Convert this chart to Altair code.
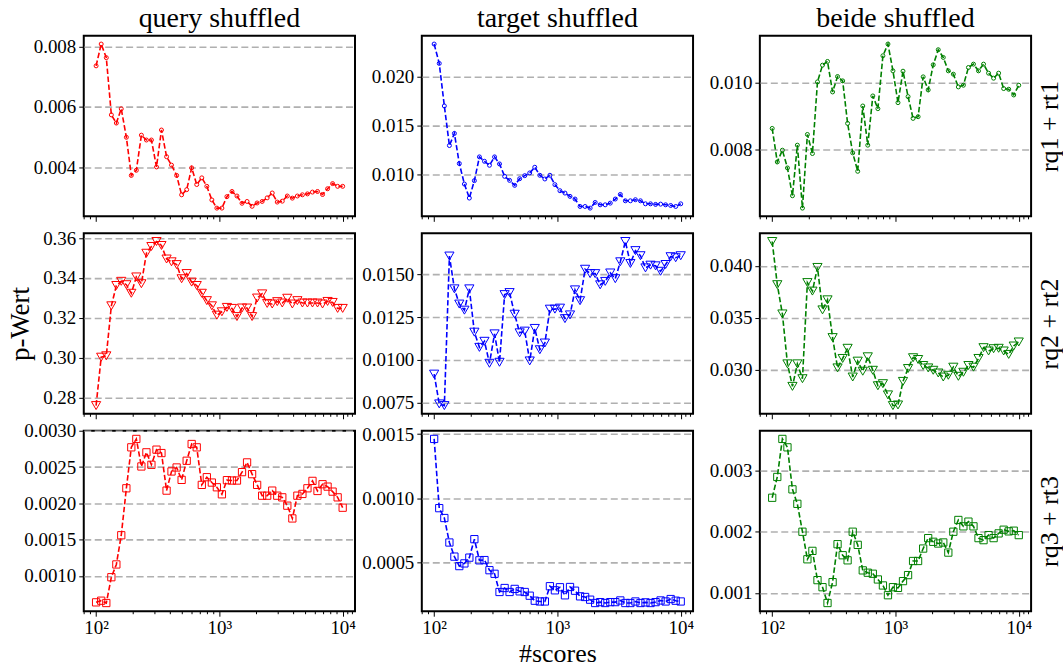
import altair as alt
import pandas as pd

scores = [100, 110, 121, 133, 146, 160, 176, 193, 212, 233,
          256, 281, 309, 339, 373, 409, 450, 494, 543, 596,
          655, 720, 791, 869, 954, 1048, 1151, 1265, 1389, 1526,
          1677, 1842, 2024, 2223, 2442, 2683, 2947, 3237, 3556, 3907,
          4292, 4715, 5179, 5690, 6251, 6866, 7543, 8286, 9103, 10000]

col_titles = ["query shuffled", "target shuffled", "beide shuffled"]
row_titles = ["rq1 + rt1", "rq2 + rt2", "rq3 + rt3"]
colors = ["#ff0000", "#0000ff", "#008000"]
shapes = ["circle", "triangle-down", "square"]
sizes = [16, 85, 53]

q_rq1 = [0.00736, 0.00808, 0.00763, 0.00574, 0.00547, 0.00594, 0.00500, 0.00374, 0.00391, 0.00507,
         0.00491, 0.00491, 0.00402, 0.00524, 0.00436, 0.00408, 0.00374, 0.00310, 0.00327, 0.00399,
         0.00344, 0.00366, 0.00338, 0.00293, 0.00266, 0.00266, 0.00304, 0.00321, 0.00306, 0.00282,
         0.00288, 0.00272, 0.00283, 0.00288, 0.00300, 0.00316, 0.00286, 0.00289, 0.00306, 0.00299,
         0.00306, 0.00310, 0.00313, 0.00319, 0.00321, 0.00311, 0.00330, 0.00347, 0.00338, 0.00338]
t_rq1 = [0.02332, 0.02134, 0.01699, 0.01294, 0.01418, 0.01110, 0.00900, 0.00757, 0.00935, 0.01178,
         0.01133, 0.01092, 0.01178, 0.01106, 0.00979, 0.00938, 0.00887, 0.00955, 0.00986, 0.01014,
         0.01072, 0.00990, 0.00952, 0.00990, 0.00894, 0.00832, 0.00808, 0.00774, 0.00747, 0.00671,
         0.00671, 0.00654, 0.00712, 0.00688, 0.00688, 0.00705, 0.00747, 0.00794, 0.00729, 0.00729,
         0.00740, 0.00729, 0.00698, 0.00698, 0.00692, 0.00695, 0.00688, 0.00681, 0.00671, 0.00698]
b_rq1 = [0.00863, 0.00763, 0.00798, 0.00745, 0.00662, 0.00813, 0.00625, 0.00845, 0.00788, 0.01002,
         0.01052, 0.01063, 0.00972, 0.01018, 0.01005, 0.00878, 0.00790, 0.00735, 0.00930, 0.00813,
         0.00960, 0.00922, 0.01080, 0.01115, 0.01035, 0.00940, 0.01034, 0.00958, 0.00893, 0.00898,
         0.01017, 0.00978, 0.01053, 0.01098, 0.01075, 0.01035, 0.01025, 0.00987, 0.00992, 0.01045,
         0.01055, 0.01035, 0.01055, 0.01028, 0.01013, 0.01028, 0.00982, 0.00980, 0.00963, 0.00992]

q_rq2 = [0.2759, 0.3002, 0.3009, 0.3260, 0.3362, 0.3383, 0.3366, 0.3323, 0.3405, 0.3371,
         0.3524, 0.3558, 0.3583, 0.3563, 0.3495, 0.3481, 0.3467, 0.3396, 0.3422, 0.3379,
         0.3362, 0.3323, 0.3286, 0.3260, 0.3213, 0.3230, 0.3252, 0.3247, 0.3206, 0.3249,
         0.3249, 0.3206, 0.3299, 0.3320, 0.3272, 0.3269, 0.3281, 0.3274, 0.3298, 0.3269,
         0.3286, 0.3274, 0.3274, 0.3274, 0.3274, 0.3269, 0.3282, 0.3277, 0.3247, 0.3247]
t_rq2 = [0.009167, 0.007421, 0.007322, 0.016091, 0.014167, 0.013274, 0.012917, 0.014167, 0.011627, 0.010735,
         0.011092, 0.009802, 0.011528, 0.009861, 0.013829, 0.013948, 0.012679, 0.011588, 0.011687, 0.009940,
         0.011846, 0.010596, 0.010992, 0.012976, 0.012976, 0.013036, 0.012421, 0.012639, 0.014107, 0.013472,
         0.015317, 0.015060, 0.015060, 0.014405, 0.014603, 0.015099, 0.014762, 0.015754, 0.016944, 0.015655,
         0.016409, 0.016110, 0.015397, 0.015556, 0.015516, 0.015198, 0.015595, 0.016052, 0.015992, 0.016110]
b_rq2 = [0.04234, 0.03818, 0.03536, 0.03055, 0.02838, 0.03055, 0.02912, 0.03838, 0.03756, 0.03984,
         0.03575, 0.03672, 0.03308, 0.03016, 0.03107, 0.03205, 0.02928, 0.03081, 0.02984, 0.03123,
         0.02993, 0.02844, 0.02864, 0.02756, 0.02653, 0.02659, 0.02886, 0.03010, 0.03114, 0.03097,
         0.03039, 0.03016, 0.02993, 0.02967, 0.02928, 0.02945, 0.03023, 0.02935, 0.02974, 0.03039,
         0.03023, 0.03107, 0.03211, 0.03179, 0.03201, 0.03205, 0.03179, 0.03146, 0.03227, 0.03266]

q_rq3 = [0.000634, 0.000657, 0.000625, 0.000981, 0.001157, 0.001560, 0.002208, 0.002773, 0.002889, 0.002509,
         0.002704, 0.002532, 0.002741, 0.002694, 0.002176, 0.002440, 0.002495, 0.002324, 0.002588, 0.002819,
         0.002773, 0.002255, 0.002361, 0.002287, 0.002222, 0.002125, 0.002320, 0.002315, 0.002315, 0.002431,
         0.002565, 0.002403, 0.002255, 0.002106, 0.002106, 0.002176, 0.002106, 0.002083, 0.001968, 0.001792,
         0.002106, 0.002130, 0.002208, 0.002310, 0.002171, 0.002264, 0.002231, 0.002162, 0.002083, 0.001940]
t_rq3 = [0.001463, 0.000923, 0.000846, 0.000655, 0.000545, 0.000471, 0.000492, 0.000537, 0.000681, 0.000516,
         0.000518, 0.000439, 0.000411, 0.000269, 0.000300, 0.000269, 0.000293, 0.000274, 0.000269, 0.000240,
         0.000201, 0.000195, 0.000195, 0.000314, 0.000282, 0.000306, 0.000243, 0.000308, 0.000279, 0.000235,
         0.000230, 0.000209, 0.000183, 0.000190, 0.000183, 0.000190, 0.000190, 0.000203, 0.000183, 0.000183,
         0.000195, 0.000183, 0.000188, 0.000183, 0.000190, 0.000203, 0.000195, 0.000214, 0.000201, 0.000195]
b_rq3 = [0.002551, 0.002890, 0.003510, 0.003373, 0.002688, 0.002452, 0.001997, 0.001548, 0.001685, 0.001208,
         0.001093, 0.000835, 0.001175, 0.001794, 0.001614, 0.001531, 0.001997, 0.001783, 0.001367, 0.001329,
         0.001312, 0.001219, 0.001121, 0.000962, 0.001093, 0.001082, 0.001192, 0.001290, 0.001520, 0.001520,
         0.001723, 0.001893, 0.001833, 0.001805, 0.001822, 0.001657, 0.001997, 0.002189, 0.002085, 0.002162,
         0.002085, 0.001893, 0.001860, 0.001942, 0.001893, 0.001970, 0.002030, 0.002003, 0.002014, 0.001942]

series = [[q_rq1, t_rq1, b_rq1], [q_rq2, t_rq2, b_rq2], [q_rq3, t_rq3, b_rq3]]

y_ticks = [[[0.004, 0.006, 0.008], [0.010, 0.015, 0.020], [0.008, 0.010]],
           [[0.28, 0.30, 0.32, 0.34, 0.36], [0.0075, 0.0100, 0.0125, 0.0150], [0.030, 0.035, 0.040]],
           [[0.0010, 0.0015, 0.0020, 0.0025, 0.0030], [0.0005, 0.0010, 0.0015], [0.001, 0.002, 0.003]]]
y_formats = [[".3f", ".3f", ".3f"], [".2f", ".4f", ".3f"], [".4f", ".4f", ".3f"]]

major_x = [100, 1000, 10000]
minor_x = [80, 90, 200, 300, 400, 500, 600, 700, 800, 900,
           2000, 3000, 4000, 5000, 6000, 7000, 8000, 9000, 11000, 12000]

W, H = 272, 181
FONT = "Liberation Serif"
XDOM = [79.43, 12589.0]
label_expr = "datum.value == 100 ? '10²' : (datum.value == 1000 ? '10³' : '10⁴')"


def panel(r, c):
    vals = series[r][c]
    df = pd.DataFrame({"n": scores, "p": vals})
    lo, hi = min(vals), max(vals)
    m = 0.05 * (hi - lo)
    ys = alt.Scale(domain=[lo - m, hi + m], nice=False, zero=False)
    xs = alt.Scale(type="log", domain=XDOM, nice=False)

    bottom = (r == 2)
    xaxis = alt.Axis(values=major_x, labels=bottom, labelExpr=label_expr, labelFlush=False,
                     grid=False, tickSize=5, labelPadding=2,
                     title=("#scores" if (bottom and c == 1) else None), titlePadding=3,
                     titleFontSize=26)
    yaxis = alt.Axis(values=y_ticks[r][c], format=y_formats[r][c], grid=True, tickSize=5,
                     title=("p-Wert" if (r == 1 and c == 0) else None), titlePadding=8)

    base = alt.Chart(df)
    line = base.mark_line(color=colors[c], strokeDash=[5.5, 2.5], strokeWidth=1.6).encode(
        x=alt.X("n:Q", scale=xs, axis=xaxis),
        y=alt.Y("p:Q", scale=ys, axis=yaxis),
    )
    pts = base.mark_point(shape=shapes[r], filled=False, size=sizes[r], strokeWidth=1,
                          color=colors[c], opacity=1).encode(
        x=alt.X("n:Q", scale=xs),
        y=alt.Y("p:Q", scale=ys),
    )
    minor = alt.Chart(pd.DataFrame({"n": minor_x})).mark_rule(color="black", strokeWidth=1).encode(
        x=alt.X("n:Q", scale=xs),
        y=alt.value(H),
        y2=alt.value(H + 3),
    )
    main = alt.layer(line, pts, minor)
    if c == 2:
        dummy = base.mark_point(opacity=0).encode(
            x=alt.X("n:Q", scale=xs),
            y=alt.Y("p:Q", scale=ys,
                    axis=alt.Axis(orient="right", title=row_titles[r], labels=False, ticks=False,
                                  domain=False, grid=False, titleAngle=270, titlePadding=5,
                                  titleBaseline="top", titleFontSize=26)),
        )
        ch = alt.layer(main, dummy).resolve_scale(y="independent")
    else:
        ch = main
    props = dict(width=W, height=H)
    if r == 0:
        props["title"] = alt.TitleParams(col_titles[c], font=FONT, fontSize=28, fontWeight="normal",
                                         color="black", offset=3)
    return ch.properties(**props)


panels = [panel(r, c) for r in range(3) for c in range(3)]

chart = alt.concat(*panels, columns=3, align="each", bounds="flush",
                   spacing={"row": 17, "column": 67}).properties(
    padding={"left": 5, "top": 3, "right": 0, "bottom": 0}
).configure_view(
    stroke="black", strokeWidth=2
).configure_axis(
    labelFont=FONT, labelFontSize=19, labelColor="black", labelPadding=3,
    titleFont=FONT, titleFontSize=27, titleFontWeight="normal", titleColor="black",
    tickColor="black", tickWidth=1, domain=False,
    gridColor="#b0b0b0", gridDash=[7, 3.5], gridWidth=1.6,
)

chart.save("out.html", embed_options={"renderer": "svg", "actions": False})
